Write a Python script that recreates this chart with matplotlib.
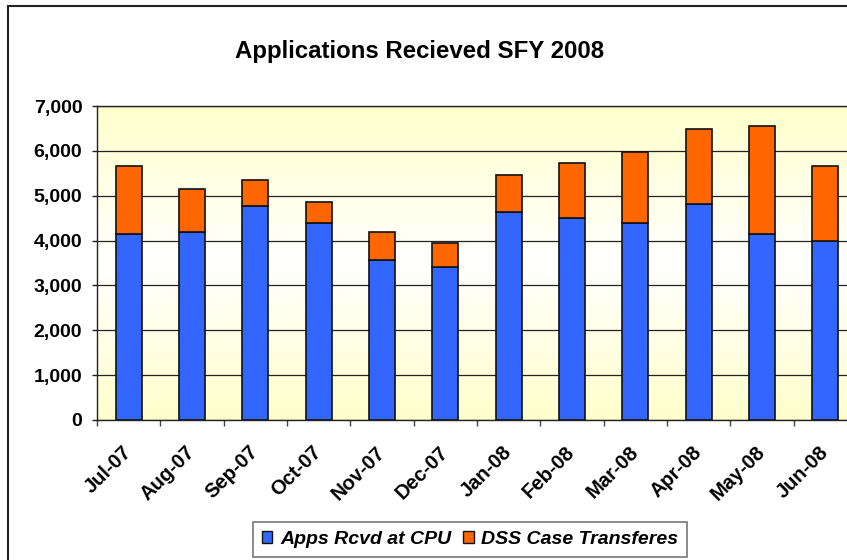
import matplotlib
matplotlib.use("Agg")
import matplotlib.pyplot as plt
import numpy as np
from matplotlib.colors import LinearSegmentedColormap
from matplotlib.patches import Patch, Rectangle
from matplotlib.ticker import FuncFormatter, FixedLocator

plt.rcParams['font.family'] = ['Liberation Sans', 'DejaVu Sans']

months = ['Jul-07', 'Aug-07', 'Sep-07', 'Oct-07', 'Nov-07', 'Dec-07',
          'Jan-08', 'Feb-08', 'Mar-08', 'Apr-08', 'May-08', 'Jun-08']
apps_rcvd = [4150, 4200, 4770, 4400, 3570, 3400, 4640, 4500, 4390, 4810, 4150, 3990]
dss_transfers = [1520, 950, 580, 470, 620, 550, 820, 1230, 1580, 1670, 2400, 1670]
series_names = ['Apps Rcvd at CPU', 'DSS Case Transferes']
title = 'Applications Recieved SFY 2008'

blue = '#3366FF'
orange = '#FF6600'

W, H = 847, 560
fig = plt.figure(figsize=(W / 100, H / 100), dpi=100)
fig.patch.set_facecolor('white')

# outer chart border (extends past right/bottom edges)
fig.patches.append(Rectangle((8 / W, -0.2), 2.0, (H - 6) / H + 0.2,
                             transform=fig.transFigure, fill=False,
                             edgecolor='#222222', linewidth=1.5, zorder=0))

ax = fig.add_axes([97 / W, 140 / H, 760 / W, 314 / H])
x = np.arange(len(months))

# gradient background
cmap = LinearSegmentedColormap.from_list('bg', ['#FFFFCC', '#FFFFFF', '#FFFFCC'])
grad = np.linspace(0, 1, 256).reshape(-1, 1)
ax.imshow(grad, extent=[0, 1, 0, 1], transform=ax.transAxes, aspect='auto',
          cmap=cmap, zorder=0, origin='lower')

ax.set_xlim(-0.5, len(months) - 0.5)
ax.set_ylim(0, 7000)

ax.yaxis.set_major_locator(FixedLocator(np.arange(0, 7001, 1000)))
ax.yaxis.set_major_formatter(FuncFormatter(lambda v, p: f'{int(v):,}'))
ax.grid(axis='y', color='#222222', linewidth=0.9, zorder=1)
ax.set_axisbelow(True)

bw = 0.41
ax.bar(x, apps_rcvd, bw, color=blue, edgecolor='#111111', linewidth=1.2, zorder=3,
       label=series_names[0])
ax.bar(x, dss_transfers, bw, bottom=apps_rcvd, color=orange, edgecolor='#111111',
       linewidth=1.2, zorder=3, label=series_names[1])

# x ticks: labels at centres, tick marks at boundaries
ax.set_xticks(x)
ax.set_xticklabels(months, rotation=45, ha='right', va='center',
                   rotation_mode='anchor', fontsize=14.5, fontweight='bold')
ax.tick_params(axis='x', which='major', length=0, pad=21)
ax.set_xticks(np.arange(-0.5, len(months), 1.0), minor=True)
ax.tick_params(axis='x', which='minor', length=4.5, width=1, color='#444444')

ax.tick_params(axis='y', length=3.6, width=1, color='#222222', pad=7)
for lab in ax.get_yticklabels():
    lab.set_fontsize(14)
    lab.set_fontweight('bold')

for s in ['left', 'bottom', 'top']:
    ax.spines[s].set_color('#222222')
    ax.spines[s].set_linewidth(1.0)
ax.spines['right'].set_visible(False)

fig.text(420 / W, 1 - 58.3 / H, title, ha='center', va='baseline',
         fontsize=17.3, fontweight='bold')

handles = [Patch(facecolor=blue, edgecolor='#111111', linewidth=1),
           Patch(facecolor=orange, edgecolor='#111111', linewidth=1)]
leg = fig.legend(handles, series_names, loc='center',
                 bbox_to_anchor=(470 / W, 1 - 539.5 / H), ncol=2,
                 frameon=True, fancybox=False, shadow=False,
                 prop={'weight': 'bold', 'style': 'italic', 'size': 14},
                 handlelength=0.55, handleheight=0.55, handletextpad=0.4,
                 columnspacing=0.6, borderpad=0.45, borderaxespad=0)
leg.get_frame().set_edgecolor('#555555')
leg.get_frame().set_linewidth(1.2)

fig.savefig('out.png', dpi=100)
